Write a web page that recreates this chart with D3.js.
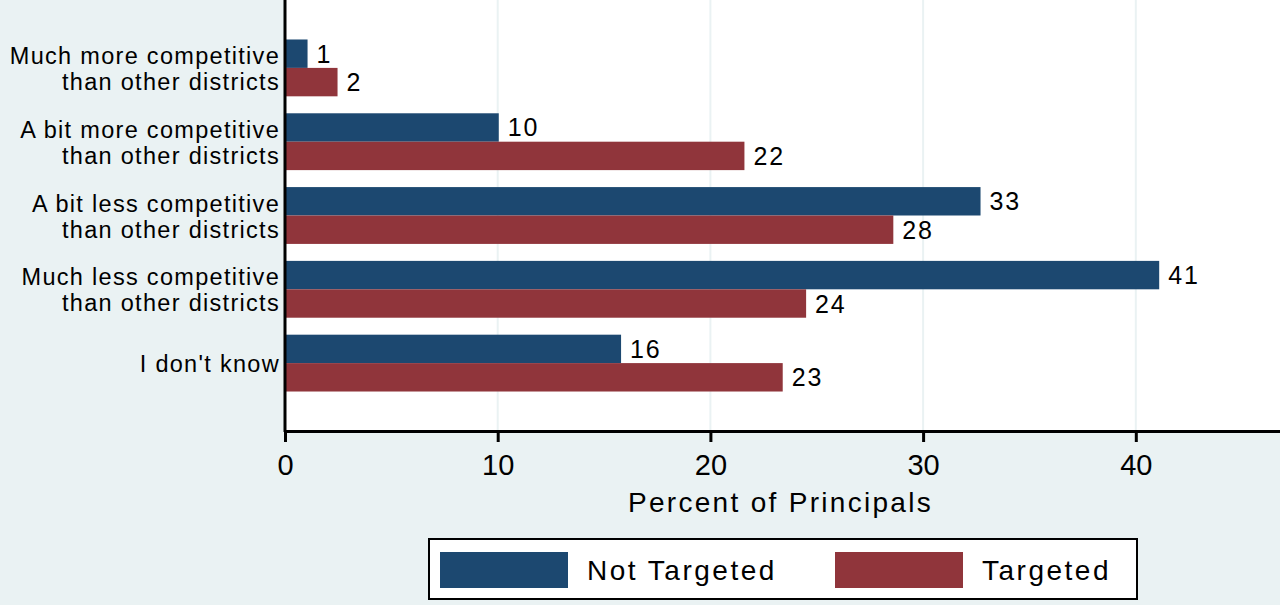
<!DOCTYPE html>
<html lang="en">
<head>
    <meta charset="UTF-8">
    <title>Percent of Principals</title>
    <script src="https://d3js.org/d3.v7.min.js"></script>
    <style>
        body { margin: 0; background: #eaf2f3; }
        text { font-family: "Liberation Sans", Arial, sans-serif; fill: #000; }
    </style>
</head>
<body>
    <script>
        const categories = [
            ["Much more competitive", "than other districts"],
            ["A bit more competitive", "than other districts"],
            ["A bit less competitive", "than other districts"],
            ["Much less competitive", "than other districts"],
            ["I don't know"]
        ];
        const seriesNames = ["Not Targeted", "Targeted"];
        const notTargeted = [1.06, 10.05, 32.7, 41.1, 15.8];
        const targeted = [2.47, 21.6, 28.6, 24.5, 23.4];
        const notTargetedLabels = ["1", "10", "33", "41", "16"];
        const targetedLabels = ["2", "22", "28", "24", "23"];
        const xTicks = [0, 10, 20, 30, 40];

        const colors = ["#1c4870", "#90353b"];

        const w = 1280;
        const h = 605;
        const pLeft = 285, pRight = 1280, pTop = 0, pBottom = 431;

        const svg = d3.select("body")
                      .append("svg")
                      .attr("width", w)
                      .attr("height", h);

        svg.append("rect")
           .attr("width", w).attr("height", h)
           .attr("fill", "#eaf2f3");

        // plot region
        svg.append("rect")
           .attr("x", pLeft).attr("y", pTop)
           .attr("width", pRight - pLeft).attr("height", pBottom - pTop)
           .attr("fill", "#ffffff");

        const xScale = d3.scaleLinear()
                         .domain([0, (pRight - pLeft) / 21.27])
                         .range([pLeft, pRight]);

        const yScale = d3.scaleBand()
                         .domain(d3.range(categories.length))
                         .range([pTop, pBottom])
                         .paddingInner(0.23)
                         .paddingOuter(0.535);

        // grid
        svg.selectAll(".grid")
           .data(xTicks.filter(d => d > 0))
           .enter()
           .append("line")
           .attr("x1", d => xScale(d)).attr("x2", d => xScale(d))
           .attr("y1", pTop).attr("y2", pBottom)
           .attr("stroke", "#eaf2f3")
           .attr("stroke-width", 2);

        const rows = categories.map((c, i) => ({
            i: i,
            vals: [notTargeted[i], targeted[i]],
            labs: [notTargetedLabels[i], targetedLabels[i]]
        }));

        const barH = yScale.bandwidth() / 2;

        rows.forEach(r => {
            r.vals.forEach((v, k) => {
                const y0 = yScale(r.i) + k * barH;
                svg.append("rect")
                   .attr("x", xScale(0))
                   .attr("y", y0)
                   .attr("width", xScale(v) - xScale(0))
                   .attr("height", barH)
                   .attr("fill", colors[k]);
                svg.append("text")
                   .attr("x", xScale(v) + 9)
                   .attr("y", y0 + barH / 2 + 9)
                   .attr("font-size", 25)
                   .attr("letter-spacing", 1.8)
                   .text(r.labs[k]);
            });
        });

        // category labels
        rows.forEach(r => {
            const c = yScale(r.i) + yScale.bandwidth() / 2;
            const lines = categories[r.i];
            const t = svg.append("text")
                         .attr("text-anchor", "end")
                         .attr("font-size", 23.5)
                         .attr("letter-spacing", 1.3);
            if (lines.length === 1) {
                t.append("tspan").attr("x", 280).attr("y", c + 9).text(lines[0]);
            } else {
                t.append("tspan").attr("x", 280).attr("y", c - 4).text(lines[0]);
                t.append("tspan").attr("x", 280).attr("y", c + 22).text(lines[1]);
            }
        });

        // x axis
        const xAxis = d3.axisBottom(xScale)
                        .tickValues(xTicks)
                        .tickSize(11)
                        .tickSizeOuter(0)
                        .tickPadding(12);

        const gx = svg.append("g")
           .attr("transform", "translate(0," + pBottom + ")")
           .call(xAxis);
        gx.select(".domain").attr("stroke", "#000").attr("stroke-width", 3);
        gx.selectAll(".tick line").attr("stroke", "#000").attr("stroke-width", 3);
        gx.selectAll(".tick text")
          .attr("font-family", "Liberation Sans, Arial, sans-serif")
          .attr("font-size", 29)
          .attr("fill", "#000");

        // y axis line
        svg.append("line")
           .attr("x1", pLeft).attr("x2", pLeft)
           .attr("y1", pTop).attr("y2", pBottom + 1)
           .attr("stroke", "#000")
           .attr("stroke-width", 3);

        svg.append("text")
           .attr("x", (628 + 933) / 2)
           .attr("y", 512)
           .attr("text-anchor", "middle")
           .attr("font-size", 28)
           .attr("letter-spacing", 2.3)
           .text("Percent of Principals");

        // legend
        const legend = svg.append("g");
        legend.append("rect")
              .attr("x", 429).attr("y", 539)
              .attr("width", 708).attr("height", 60)
              .attr("fill", "#fff")
              .attr("stroke", "#000")
              .attr("stroke-width", 2);

        const legX = [440, 835];
        seriesNames.forEach((s, k) => {
            legend.append("rect")
                  .attr("x", legX[k]).attr("y", 552)
                  .attr("width", 128).attr("height", 36)
                  .attr("fill", colors[k]);
            legend.append("text")
                  .attr("x", legX[k] + 147)
                  .attr("y", 580)
                  .attr("font-size", 28)
                  .attr("letter-spacing", 2.5)
                  .text(s);
        });
    </script>
</body>
</html>
